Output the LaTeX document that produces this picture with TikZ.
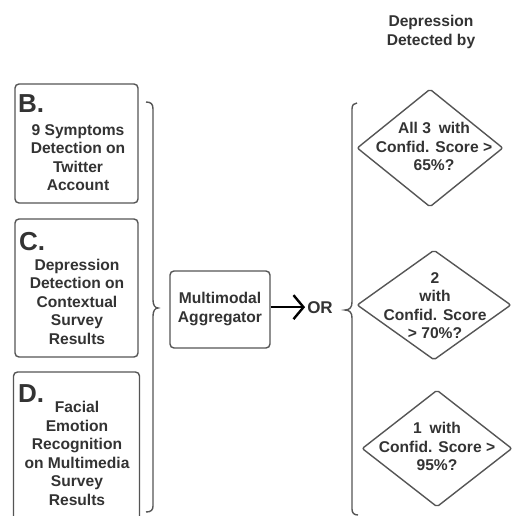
\documentclass[tikz,border=0pt]{standalone}
\usepackage{fontspec}
\setmainfont{Liberation Sans}
\usetikzlibrary{shapes.geometric,arrows.meta}
\definecolor{linegray}{HTML}{555555}
\definecolor{textgray}{HTML}{333333}
\begin{document}
\begin{tikzpicture}[x=1pt,y=-1pt,
  every node/.style={inner sep=0pt,text=textgray,font=\bfseries\fontsize{15.6}{18.5}\selectfont},
  panel/.style={draw=linegray,line width=1.4pt,rounded corners=4pt,rectangle},
  decision/.style={draw=linegray,line width=1.4pt,diamond,rounded corners=2pt},
  blocktext/.style={align=center},
  bigletter/.style={anchor=base west,font=\bfseries\fontsize{26}{26}\selectfont},
  bracket/.style={draw=linegray,line width=1.4pt},
  flow/.style={draw=black,line width=2.4pt,-{Straight Barb[length=10pt,width=24pt]}}]
\clip (0,0) rectangle (513,516);
\fill[white] (0,0) rectangle (513,516);

% header
\node[blocktext] (hdr) at (431,32) {Depression\\Detected by};

% input panels
\node[panel,minimum width=123pt,minimum height=119pt] (boxB) at (76.5,143.5) {};
\node[bigletter] (letB) at (18,113) {B.};
\node[blocktext] (txtB) at (78,157.5) {9 Symptoms\\Detection on\\Twitter\\Account};

\node[panel,minimum width=123pt,minimum height=138pt] (boxC) at (76.5,288) {};
\node[bigletter] (letC) at (19,250) {C.};
\node[blocktext] (txtC) at (77,301.5) {Depression\\Detection on\\Contextual\\Survey\\Results};

\node[panel,minimum width=126pt,minimum height=160pt] (boxD) at (76.5,452) {};
\node[bigletter] (letD) at (18,402) {D.};
\node[blocktext] (txtD) at (77,453.5) {Facial\\Emotion\\Recognition\\on Multimedia\\Survey\\Results};

% left bracket gathering the panels
\draw[bracket] (146,102) .. controls (151,102) and (153,104) .. (153,109)
  -- (153,300) .. controls (153,305) and (155,308) .. (158,308)
  .. controls (155,308) and (153,311) .. (153,316)
  -- (153,506) .. controls (153,510) and (151,512) .. (146,512);

% aggregator
\node[panel,minimum width=100pt,minimum height=77pt] (agg) at (220,309.5) {};
\node[blocktext] (aggtxt) at (220,309) {Multimodal\\Aggregator};
\node[anchor=base,font=\bfseries\fontsize{17}{17}\selectfont] (or) at (320,313) {OR};
\draw[flow] (agg.east |- or.center) -- ([xshift=-2pt]or.west |- or.center);

% right bracket of decisions
\draw[bracket] (357,103) .. controls (354,103) and (352,105) .. (352,109)
  -- (352,302) .. controls (352,307) and (350,310) .. (345,310)
  .. controls (350,310) and (352,313) .. (352,318)
  -- (352,509) .. controls (352,513) and (354,515) .. (358,515);

% decisions
\node[decision,minimum width=146pt,minimum height=118pt] (d1) at (430,148) {};
\node[blocktext] (d1txt) at (434,146.5) {All 3\enspace with\\Confid. Score >\\65\%?};

\node[decision,minimum width=154pt,minimum height=110pt] (d2) at (434,305) {};
\node[blocktext] (d2txt) at (435,305.5) {2\\with\\Confid. Score\\> 70\%?};

\node[decision,minimum width=150pt,minimum height=117pt] (d3) at (437,448.5) {};
\node[blocktext] (d3txt) at (437,446.5) {1\enspace with\\Confid. Score >\\95\%?};
\end{tikzpicture}
\end{document}
